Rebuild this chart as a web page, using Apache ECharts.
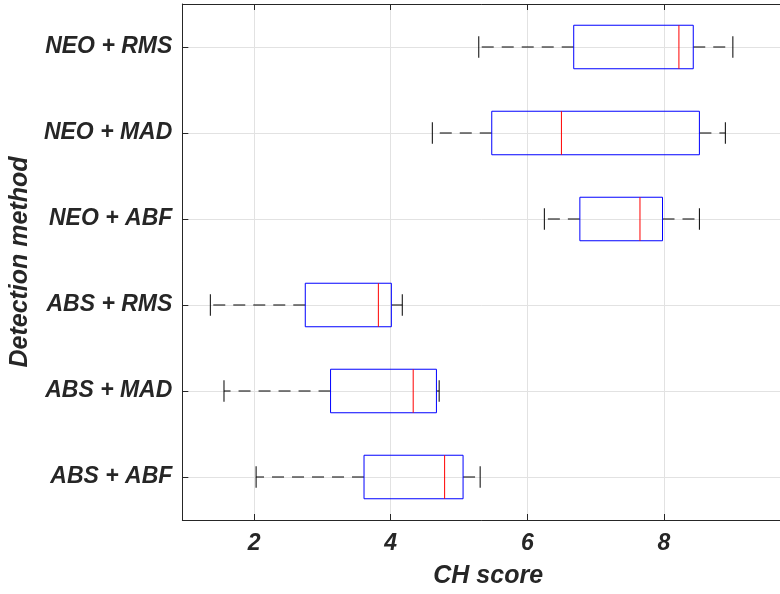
<!DOCTYPE html>
<html>
<head>
<meta charset="utf-8">
<script src="https://cdn.jsdelivr.net/npm/echarts@6/dist/echarts.min.js"></script>
<style>
html,body{margin:0;padding:0;background:#fff;overflow:hidden;}
#chart{width:780px;height:594px;}
</style>
</head>
<body>
<div id="chart"></div>
<script>
// Categories, bottom to top
var categories = ['ABS + ABF', 'ABS + MAD', 'ABS + RMS', 'NEO + ABF', 'NEO + MAD', 'NEO + RMS'];
var whiskerLow  = [2.03, 1.56, 1.36, 6.25, 4.61, 5.29];
var quart1      = [3.61, 3.12, 2.75, 6.77, 5.48, 6.68];
var medians     = [4.79, 4.33, 3.82, 7.65, 6.50, 8.22];
var quart3      = [5.06, 4.67, 4.01, 7.98, 8.52, 8.43];
var whiskerHigh = [5.31, 4.71, 4.17, 8.52, 8.90, 9.01];
var xTicks = [2, 4, 6, 8];
var yTickIdx = [0, 1, 2, 3, 4, 5];

var data = categories.map(function (c, i) {
  return [i, whiskerLow[i], quart1[i], medians[i], quart3[i], whiskerHigh[i]];
});

var FONT = 'Liberation Sans, Arial, Helvetica, sans-serif';
var TXT = '#262626';

function renderItem(params, api) {
  var ci = api.value(0);
  var band = api.size([0, 1])[1];
  var hb = band * 0.253;
  var hc = band * 0.125;
  var xs = [1, 2, 3, 4, 5].map(function (k) { return api.coord([api.value(k), ci])[0]; });
  var y = api.coord([api.value(1), ci])[1];
  return {
    type: 'group',
    children: [
      { type: 'line', shape: { x1: xs[1], y1: y, x2: xs[0], y2: y }, style: { stroke: '#000', lineWidth: 1, lineDash: [12, 8] } },
      { type: 'line', shape: { x1: xs[3], y1: y, x2: xs[4], y2: y }, style: { stroke: '#000', lineWidth: 1, lineDash: [12, 8] } },
      { type: 'line', shape: { x1: xs[0], y1: y - hc, x2: xs[0], y2: y + hc }, style: { stroke: '#000', lineWidth: 1 } },
      { type: 'line', shape: { x1: xs[4], y1: y - hc, x2: xs[4], y2: y + hc }, style: { stroke: '#000', lineWidth: 1 } },
      { type: 'rect', shape: { x: xs[1], y: y - hb, width: xs[3] - xs[1], height: 2 * hb }, style: { fill: null, stroke: '#0000ff', lineWidth: 1 } },
      { type: 'line', shape: { x1: xs[2], y1: y - hb, x2: xs[2], y2: y + hb }, style: { stroke: '#ff0000', lineWidth: 1 } }
    ]
  };
}

var chart = echarts.init(document.getElementById('chart'), null, { renderer: 'canvas' });
chart.setOption({
  animation: false,
  backgroundColor: '#fff',
  grid: { left: 182, right: 0, top: 4, bottom: 72 },
  xAxis: [{
    type: 'value', min: 0.95, max: 9.7, position: 'bottom',
    name: 'CH score', nameLocation: 'middle', nameGap: 44,
    nameTextStyle: { fontFamily: FONT, fontSize: 25, fontWeight: 'bold', fontStyle: 'italic', color: TXT, padding: [0, 0, 0, 14] },
    axisLine: { show: true, onZero: false, lineStyle: { color: TXT, width: 1 } },
    axisTick: { show: true, inside: true, length: 6, customValues: xTicks, lineStyle: { color: TXT } },
    axisLabel: { customValues: xTicks, margin: 12, fontFamily: FONT, fontSize: 23, fontWeight: 'bold', fontStyle: 'italic', color: TXT },
    splitLine: { show: true, lineStyle: { color: '#e2e2e2', width: 1 } }
  }, {
    type: 'value', min: 0.95, max: 9.7, position: 'top',
    axisLine: { show: true, onZero: false, lineStyle: { color: TXT, width: 1 } },
    axisTick: { show: true, inside: true, length: 6, customValues: xTicks, lineStyle: { color: TXT } },
    axisLabel: { show: false },
    splitLine: { show: false }
  }],
  yAxis: {
    type: 'value', min: -0.5, max: 5.5,
    name: 'Detection method', nameLocation: 'middle', nameGap: 139,
    nameTextStyle: { fontFamily: FONT, fontSize: 25, fontWeight: 'bold', fontStyle: 'italic', color: TXT },
    axisLine: { show: true, onZero: false, lineStyle: { color: TXT, width: 1 } },
    axisTick: { show: true, inside: true, length: 6, customValues: yTickIdx, lineStyle: { color: TXT } },
    axisLabel: {
      customValues: yTickIdx, margin: 10,
      fontFamily: FONT, fontSize: 23, fontWeight: 'bold', fontStyle: 'italic', color: TXT,
      formatter: function (v) { return categories[Math.round(v)] || ''; }
    },
    splitLine: { show: true, lineStyle: { color: '#e2e2e2', width: 1 } }
  },
  series: [{
    type: 'custom',
    renderItem: renderItem,
    encode: { x: [1, 2, 3, 4, 5], y: 0 },
    data: data,
    silent: true,
    z: 5
  }]
});
</script>
</body>
</html>
